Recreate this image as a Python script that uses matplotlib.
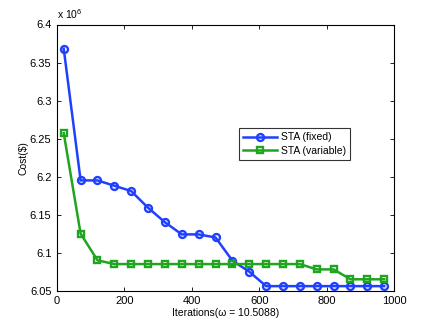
import matplotlib
matplotlib.use("Agg")
import matplotlib.pyplot as plt
import numpy as np

plt.rcParams.update({
    "font.family": ["Liberation Sans", "DejaVu Sans"],
    "font.size": 8,
    "xtick.direction": "in",
    "ytick.direction": "in",
    "xtick.top": True,
    "ytick.right": True,
    "mathtext.fontset": "custom",
    "mathtext.rm": "Liberation Sans",
    "mathtext.it": "Liberation Sans:italic",
})

iterations = [20, 70, 120, 170, 220, 270, 320, 370, 420, 470,
              520, 570, 620, 670, 720, 770, 820, 870, 920, 970]
cost_fixed = [6.368, 6.195, 6.195, 6.188, 6.181, 6.159, 6.140, 6.124, 6.124, 6.120,
              6.0895, 6.075, 6.056, 6.056, 6.056, 6.056, 6.056, 6.056, 6.056, 6.056]
cost_variable = [6.257, 6.125, 6.090, 6.085, 6.085, 6.085, 6.085, 6.085, 6.085, 6.085,
                 6.085, 6.085, 6.085, 6.085, 6.085, 6.078, 6.078, 6.065, 6.065, 6.065]

fig = plt.figure(figsize=(4.36, 3.28), dpi=100)
ax = fig.add_axes([57 / 436, 1 - 290.7 / 328, (394.3 - 57) / 436, (290.7 - 24.5) / 328])

ax.plot(iterations, cost_fixed, color="#2040ff", lw=1.8, marker="o", ms=5,
        mfc="none", mew=1.7, label="STA (fixed)")
ax.plot(iterations, cost_variable, color="#1fa51f", lw=1.8, marker="s", ms=4.5,
        mfc="none", mew=1.7, label="STA (variable)")

ax.set_xlim(0, 1000)
ax.set_ylim(6.05, 6.4)
ax.set_xticks(np.arange(0, 1001, 200))
ax.set_yticks([6.05, 6.1, 6.15, 6.2, 6.25, 6.3, 6.35, 6.4])
ax.set_yticklabels(["6.05", "6.1", "6.15", "6.2", "6.25", "6.3", "6.35", "6.4"])
ax.tick_params(length=3, width=0.6, labelsize=8, pad=4)
for s in ax.spines.values():
    s.set_linewidth(0.8)

ax.text(0.0, 1.012, r"x 10$^{6}$", transform=ax.transAxes, fontsize=7.5,
        ha="left", va="bottom")
ax.set_xlabel("Iterations(\u03c9 = 10.5088)", fontsize=7.5, labelpad=1)
ax.set_ylabel("Cost($)", fontsize=7.5, labelpad=1)

leg = ax.legend(loc="upper left", bbox_to_anchor=((239.3 - 57) / 337.3, 1 - (128.3 - 24.5) / 266.2),
                fontsize=7.5, frameon=True, fancybox=False, edgecolor="black",
                borderpad=0.4, handlelength=3.2, labelspacing=0.35, handletextpad=0.4,
                borderaxespad=0)
leg.get_frame().set_linewidth(0.8)

fig.savefig("out.png", dpi=100)
